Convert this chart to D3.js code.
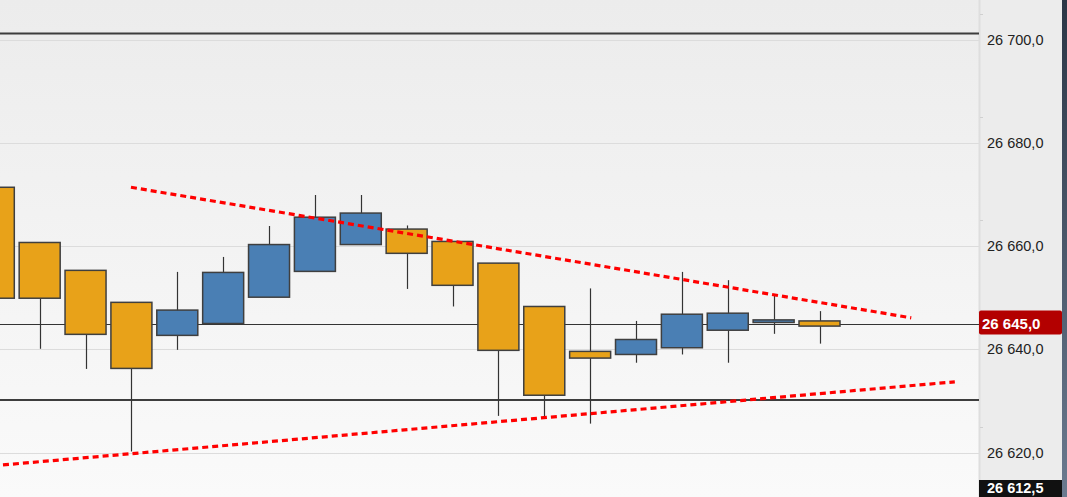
<!DOCTYPE html>
<html>
<head>
<meta charset="utf-8">
<script src="https://cdn.jsdelivr.net/npm/d3@7"></script>
<style>
  html, body { margin: 0; padding: 0; background: #ececec; }
  svg { display: block; font-family: "Liberation Sans", Arial, sans-serif; }
</style>
</head>
<body>
<script>
// candles, oldest first
var opens  = [26671.4, 26660.7, 26655.3, 26649.1, 26642.7, 26645.0, 26650.1, 26655.1, 26660.3, 26663.3, 26660.9, 26656.7, 26648.3, 26639.6, 26639.0, 26640.3, 26643.7, 26645.2, 26645.5]
var highs  = [26671.4, 26660.7, 26655.3, 26649.1, 26655.0, 26657.9, 26663.9, 26669.9, 26669.9, 26664.0, 26660.9, 26656.7, 26648.3, 26651.8, 26645.5, 26655.0, 26653.4, 26650.7, 26647.4]
var lows   = [26649.9, 26640.1, 26636.2, 26620.2, 26639.9, 26645.0, 26650.1, 26655.1, 26660.3, 26651.7, 26648.3, 26627.1, 26626.6, 26625.6, 26637.4, 26639.0, 26637.4, 26643.0, 26641.1]
var closes = [26649.9, 26649.9, 26642.9, 26636.3, 26647.6, 26654.9, 26660.3, 26665.6, 26666.4, 26658.6, 26652.4, 26639.8, 26631.1, 26638.3, 26641.9, 26646.8, 26647.0, 26645.7, 26644.5]

var gridValues = [26620, 26640, 26660, 26680, 26700]
var minorTicks = [26625, 26645, 26665, 26685, 26705]
var levelLines = [26701.2, 26630.2]
var lastPrice = 26645.0
var lowLabel = 26612.5

// trend lines: [index, value] pairs
var upperTrend = [[2.99, 26671.4], [20.0, 26646.1]]
var lowerTrend = [[0.2, 26617.6], [20.95, 26633.7]]

var width = 1067,
    height = 497,
    plotRight = 979,
    axisRight = 1062

var fmt = d3.formatLocale({decimal: ',', thousands: ' ', grouping: [3], currency: ['', '']}).format(',.1f')

var svg = d3.select('body').append('svg')
    .attr('width', width)
    .attr('height', height)

var defs = svg.append('defs')
var bg = defs.append('linearGradient').attr('id', 'bg').attr('x1', 0).attr('x2', 0).attr('y1', 0).attr('y2', 1)
bg.append('stop').attr('offset', 0).attr('stop-color', '#ececec')
bg.append('stop').attr('offset', 1).attr('stop-color', '#fafafa')
var edge = defs.append('linearGradient').attr('id', 'edge').attr('x1', 0).attr('x2', 0).attr('y1', 0).attr('y2', 1)
edge.append('stop').attr('offset', 0).attr('stop-color', '#2b3646')
edge.append('stop').attr('offset', 1).attr('stop-color', '#6b7a8f')

var y = d3.scaleLinear()
    .domain([26611.38, 26707.69])
    .range([height, 0])

var x = d3.scaleLinear()
    .domain([0, 18])
    .range([-6.2, 819.5])

var bodyW = 41

svg.append('rect').attr('width', plotRight).attr('height', height).attr('fill', 'url(#bg)')
svg.append('rect').attr('x', plotRight).attr('width', axisRight - plotRight).attr('height', height).attr('fill', '#ececec')
svg.append('rect').attr('x', axisRight).attr('width', width - axisRight).attr('height', height).attr('fill', 'url(#edge)')

// grid
svg.append('g').selectAll('line')
    .data(gridValues).enter()
    .append('line')
    .attr('x1', 0).attr('x2', plotRight)
    .attr('y1', d => Math.round(y(d)) + 0.5).attr('y2', d => Math.round(y(d)) + 0.5)
    .attr('stroke', '#dcdcdc')

// axis separator
svg.append('line')
    .attr('x1', plotRight + 0.5).attr('x2', plotRight + 0.5)
    .attr('y1', 0).attr('y2', height)
    .attr('stroke', '#dedede').attr('stroke-width', 2)

// horizontal levels
svg.append('g').selectAll('line')
    .data(levelLines).enter()
    .append('line')
    .attr('x1', 0).attr('x2', plotRight)
    .attr('y1', d => y(d)).attr('y2', d => y(d))
    .attr('stroke', '#3d3d3d').attr('stroke-width', 2)

svg.append('line')
    .attr('x1', 0).attr('x2', plotRight)
    .attr('y1', Math.round(y(lastPrice)) + 0.5).attr('y2', Math.round(y(lastPrice)) + 0.5)
    .attr('stroke', '#333').attr('stroke-width', 1.2)

var idx = d3.range(opens.length)

// wicks
svg.append('g').selectAll('line')
    .data(idx).enter()
    .append('line')
    .attr('x1', i => Math.round(x(i)) + 0.5).attr('x2', i => Math.round(x(i)) + 0.5)
    .attr('y1', i => y(highs[i])).attr('y2', i => y(lows[i]))
    .attr('stroke', '#333').attr('stroke-width', 1.2)

// bodies
svg.append('g').selectAll('rect')
    .data(idx).enter()
    .append('rect')
    .attr('x', i => x(i) - bodyW / 2)
    .attr('width', bodyW)
    .attr('y', i => y(Math.max(opens[i], closes[i])))
    .attr('height', i => Math.max(1.5, Math.abs(y(opens[i]) - y(closes[i]))))
    .attr('fill', i => closes[i] >= opens[i] ? '#4a7fb4' : '#e8a219')
    .attr('stroke', '#3f3f3f').attr('stroke-width', 1.5)

// trend lines
var line = d3.line().x(d => x(d[0])).y(d => y(d[1]))
svg.append('g').selectAll('path')
    .data([upperTrend, lowerTrend]).enter()
    .append('path')
    .attr('d', line)
    .attr('fill', 'none')
    .attr('stroke', '#ff0000').attr('stroke-width', 3.2)
    .attr('stroke-dasharray', '6,4')

// axis
var axis = d3.axisRight(y)
    .tickValues(gridValues)
    .tickFormat(fmt)
    .tickSize(0)
    .tickPadding(8)
var ag = svg.append('g')
    .attr('transform', 'translate(' + plotRight + ',0)')
    .call(axis)
ag.select('.domain').remove()
ag.selectAll('text')
    .attr('font-size', 14.5).attr('fill', '#222')
    .attr('font-family', '"Liberation Sans", Arial, sans-serif')

svg.append('g').selectAll('line')
    .data(minorTicks).enter()
    .append('line')
    .attr('x1', plotRight + 1).attr('x2', plotRight + 4)
    .attr('y1', d => Math.round(y(d)) + 0.5).attr('y2', d => Math.round(y(d)) + 0.5)
    .attr('stroke', '#d0d0d0')

// last price tag
var ly = y(lastPrice)
svg.append('rect')
    .attr('x', plotRight).attr('y', ly - 13)
    .attr('width', axisRight - plotRight).attr('height', 24)
    .attr('rx', 2)
    .attr('fill', '#b30000')
svg.append('text')
    .attr('x', plotRight + 3).attr('y', ly)
    .attr('dy', '0.35em')
    .attr('font-size', 15).attr('font-weight', 'bold').attr('fill', '#fff')
    .text(fmt(lastPrice))

// bottom tag (clamped to the bottom edge)
var by = Math.min(y(lowLabel), height - 9)
svg.append('rect')
    .attr('x', plotRight).attr('y', by - 8)
    .attr('width', axisRight - plotRight).attr('height', height - by + 8)
    .attr('fill', '#111')
svg.append('text')
    .attr('x', plotRight + 8).attr('y', by)
    .attr('dy', '0.35em')
    .attr('font-size', 14.5).attr('font-weight', 'bold').attr('fill', '#fff')
    .text(fmt(lowLabel))
</script>
</body>
</html>
